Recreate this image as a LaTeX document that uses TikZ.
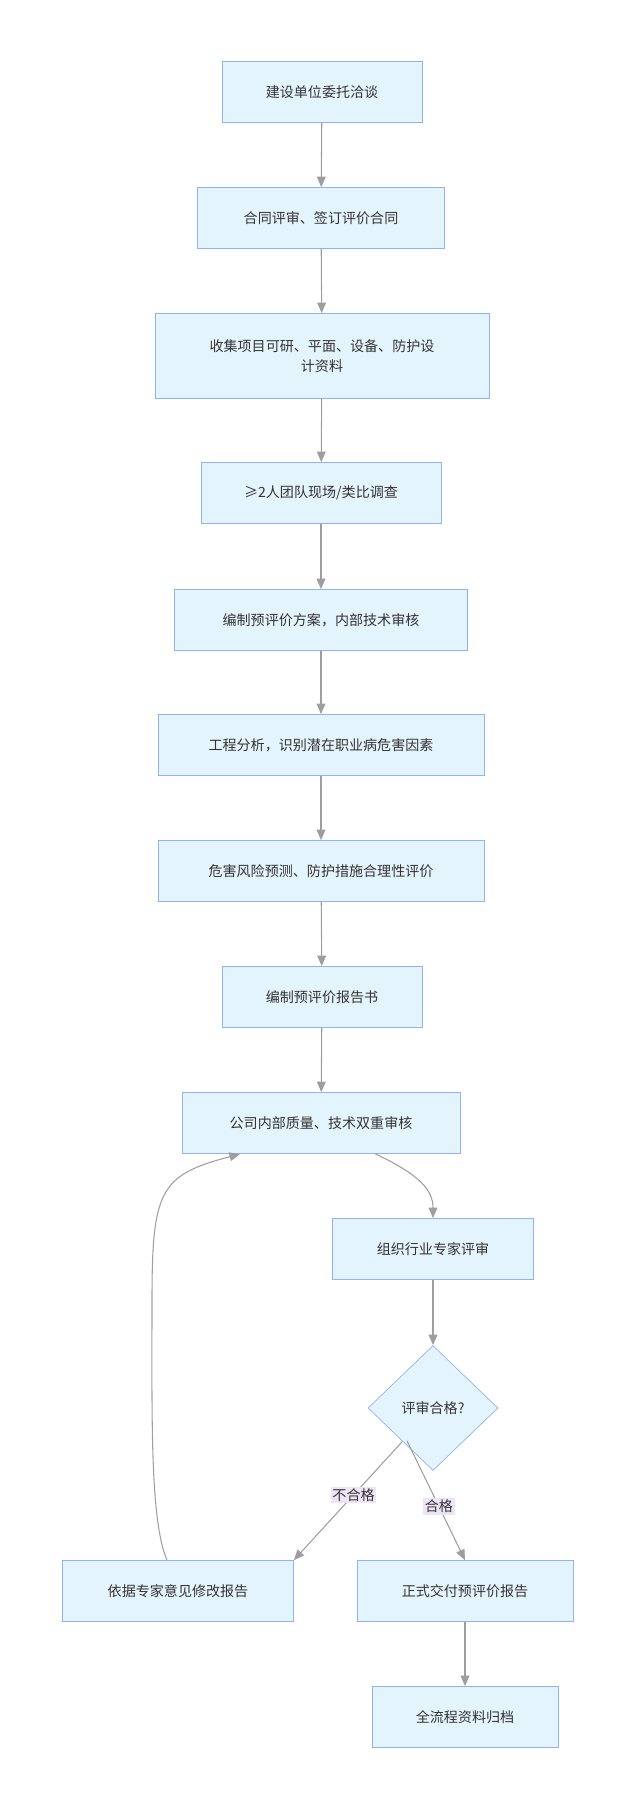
\documentclass[tikz,border=0pt]{standalone}
\usepackage{fontspec}
\setmainfont{Noto Sans CJK SC}
\usetikzlibrary{shapes.geometric,arrows.meta}
\definecolor{boxfill}{HTML}{E4F4FD}
\definecolor{boxline}{HTML}{8DB4F5}
\definecolor{edgecol}{HTML}{9E9E9E}
\definecolor{lblfill}{HTML}{EDE4F7}
\begin{document}
\begin{tikzpicture}[x=0.02cm, y=-0.02cm,
    every node/.style={font=\fontsize{8pt}{11pt}\selectfont, text=black!80},
    box/.style={draw=boxline, fill=boxfill, minimum height=1.22cm, inner sep=0pt, align=center},
    dec/.style={draw=boxline, fill=boxfill, diamond, minimum width=2.6cm, minimum height=2.5cm, inner sep=0pt, aspect=1.05},
    flow/.style={draw=edgecol, line width=0.6pt, -{Triangle[length=6pt,width=5pt]}},
    lbl/.style={fill=lblfill, inner sep=1pt}]
    \useasboundingbox (0,0) rectangle (635,1810);
    % Nodes
    \node (n1) [box, minimum width=4cm] at (322,92) {建设单位委托洽谈};
    \node (n2) [box, minimum width=4.94cm] at (321,218) {合同评审、签订评价合同};
    \node (n3) [box, minimum width=6.68cm, minimum height=1.7cm] at (322,356) {收集项目可研、平面、设备、防护设\\计资料};
    \node (n4) [box, minimum width=4.8cm] at (321,493) {≥2人团队现场/类比调查};
    \node (n5) [box, minimum width=5.86cm] at (321,620) {编制预评价方案，内部技术审核};
    \node (n6) [box, minimum width=6.52cm] at (321,745) {工程分析，识别潜在职业病危害因素};
    \node (n7) [box, minimum width=6.52cm] at (321,871) {危害风险预测、防护措施合理性评价};
    \node (n8) [box, minimum width=4cm] at (322,997) {编制预评价报告书};
    \node (n9) [box, minimum width=5.56cm] at (321,1123) {公司内部质量、技术双重审核};
    \node (n10) [box, minimum width=4.02cm] at (433,1249) {组织行业专家评审};
    \node (n11) [dec] at (433,1408) {评审合格?};
    \node (n12) [box, minimum width=4.62cm] at (178,1591) {依据专家意见修改报告};
    \node (n13) [box, minimum width=4.32cm] at (465,1591) {正式交付预评价报告};
    \node (n14) [box, minimum width=3.72cm] at (465,1717) {全流程资料归档};

    % Connectors
    \draw[flow] (n1) -- (n2);
    \draw[flow] (n2) -- (n3);
    \draw[flow] (n3) -- (n4);
    \draw[flow] (n4) -- (n5);
    \draw[flow] (n5) -- (n6);
    \draw[flow] (n6) -- (n7);
    \draw[flow] (n7) -- (n8);
    \draw[flow] (n8) -- (n9);
    \draw[flow] (n9.south east) ++(-85,0) .. controls (420,1175) and (433,1190) .. (n10.north);
    \draw[flow] (n10) -- (n11);
    \draw[flow] (n11) -- node[lbl, pos=0.45] {不合格} (n12.north east);
    \draw[flow] (n11.south) ++(-26,-30) -- node[lbl, pos=0.55] {合格} (n13.north);
    \draw[flow] (n12.north) ++(-11,0) .. controls (150,1520) and (152,1420) .. (152,1300)
        .. controls (152,1190) and (160,1175) .. (240,1154);
    \draw[flow] (n13) -- (n14);
\end{tikzpicture}
\end{document}
